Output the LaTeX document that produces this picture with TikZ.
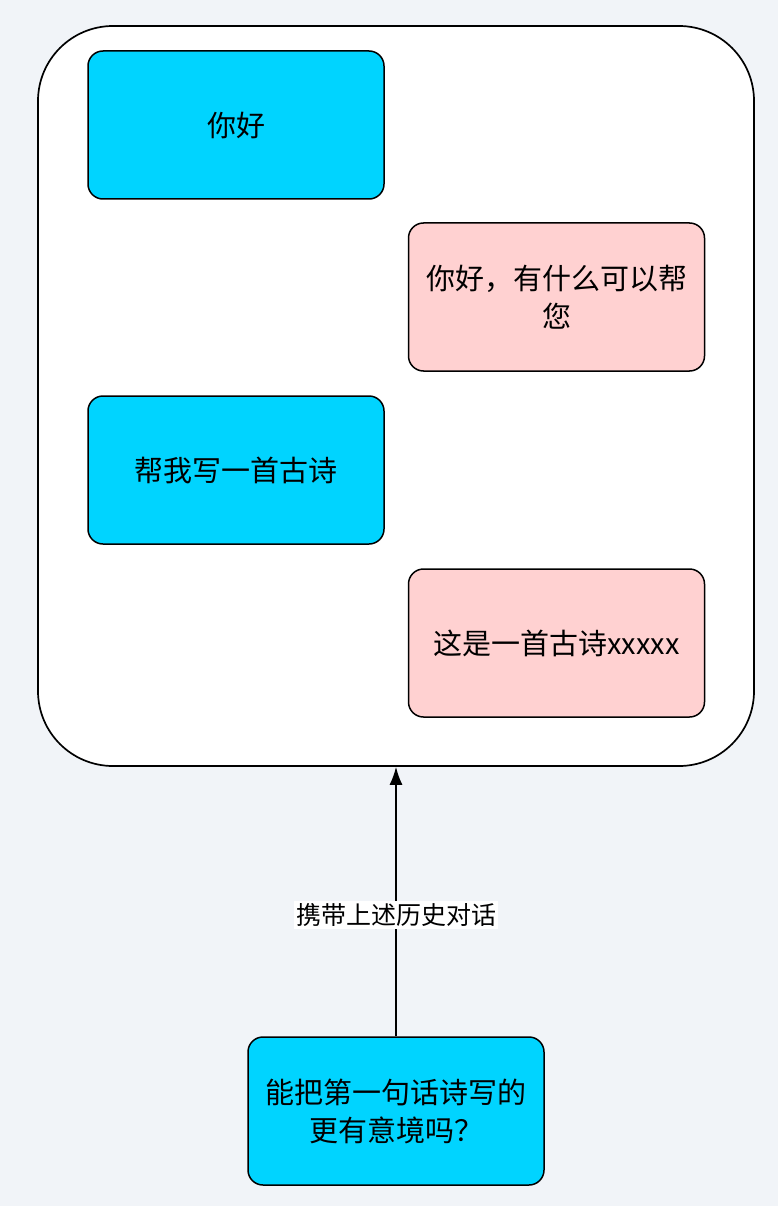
\documentclass[tikz,border=0pt]{standalone}
\usepackage{fontspec}
\setmainfont{Noto Sans CJK SC}
\usetikzlibrary{positioning,arrows.meta}
\definecolor{bgc}{RGB}{241,244,248}
\definecolor{askc}{RGB}{0,212,255}
\definecolor{replyc}{RGB}{255,209,209}
\tikzset{
  msg/.style={draw=black,line width=1.5pt,rounded corners=15pt,minimum width=296pt,minimum height=148pt,
    text width=270pt,align=center,font=\fontsize{29}{38}\selectfont},
  ask/.style={msg,fill=askc},
  reply/.style={msg,fill=replyc}
}
\begin{document}
\begin{tikzpicture}[x=1pt,y=-1pt]
  \fill[bgc] (0,0) rectangle (778,1206);
  \useasboundingbox (0,0) rectangle (778,1206);
  % chat history
  \node[draw=black,line width=1.7pt,fill=white,rounded corners=75pt,minimum width=716pt,minimum height=740pt] (hist) at (396,396) {};
  \node[ask] (q1) at (236,125) {你好};
  \node[reply] (a1) at (556.5,297) {你好，有什么可以帮\\您};
  \node[ask] (q2) at (236,470) {帮我写一首古诗};
  \node[reply] (a2) at (556.5,643) {这是一首古诗xxxxx};
  % new question
  \node[ask] (q3) at (396,1111) {能把第一句话诗写的\\更有意境吗？};
  \path[-{Latex[length=18pt,width=13pt]},draw,line width=1.5pt]
  (q3) edge node[pos=0.45,fill=white,font=\fontsize{25}{30}\selectfont,inner sep=2pt]{携带上述历史对话} (hist);
\end{tikzpicture}
\end{document}
